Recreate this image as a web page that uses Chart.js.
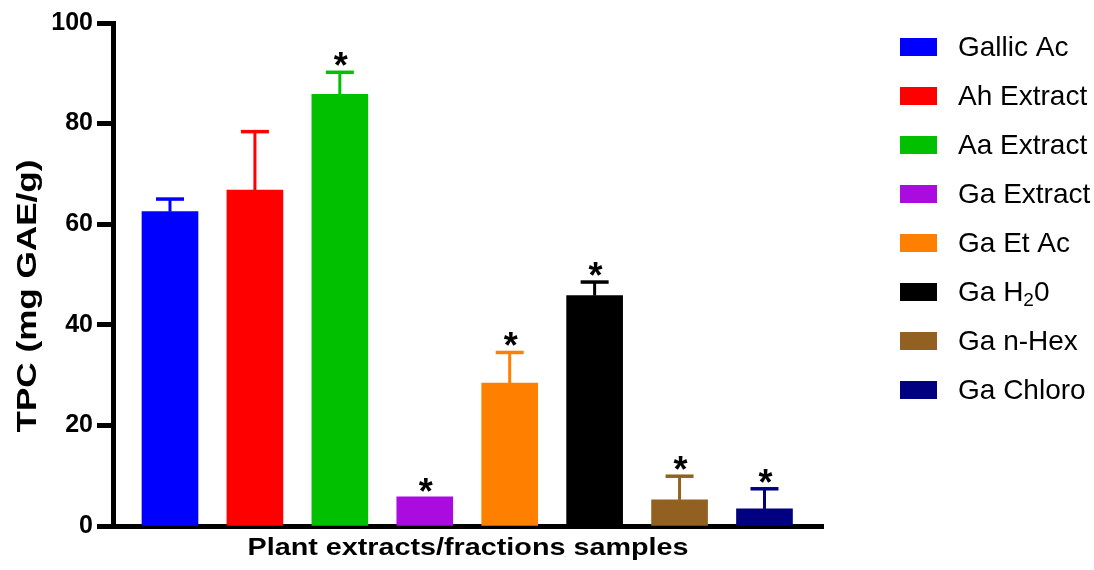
<!DOCTYPE html>
<html>
<head>
<meta charset="utf-8">
<script src="https://cdn.jsdelivr.net/npm/chart.js"></script>
<style>
  html, body { margin: 0; padding: 0; background: #fff; }
</style>
</head>
<body>
<canvas id="tpcChart" width="1094" height="570"></canvas>

<script>
// data (upper end of the SD bar in tpcUpper)
const samples = ['Gallic Ac', 'Ah Extract', 'Aa Extract', 'Ga Extract', 'Ga Et Ac', 'Ga H₂0', 'Ga n-Hex', 'Ga Chloro'];
const tpcMean = [62.5, 66.8, 85.8, 5.8, 28.4, 45.8, 5.2, 3.4];
const tpcUpper = [65.0, 78.4, 90.2, 5.8, 34.5, 48.5, 9.9, 7.4];
const signif = ['', '', '*', '*', '*', '*', '*', '*'];
const barColors = ['#0000ff', '#ff0000', '#00c000', '#aa0ce0', '#ff8000', '#000000', '#926121', '#000080'];
const yTicks = [0, 20, 40, 60, 80, 100];
const xTitle = 'Plant extracts/fractions samples';
const yTitle = 'TPC (mg GAE/g)';

const FONT = '"Liberation Sans", Arial, sans-serif';

// draw text squeezed/stretched to a given length
function stretchedText(ctx, text, cx, cy, font, len, rot) {
  ctx.save();
  ctx.font = font;
  const w = ctx.measureText(text).width;
  ctx.translate(cx, cy);
  if (rot) ctx.rotate(rot);
  ctx.scale(len / w, 1);
  ctx.textAlign = 'center';
  ctx.textBaseline = 'middle';
  ctx.fillStyle = '#000';
  ctx.fillText(text, 0, 0);
  ctx.restore();
}

const errorBars = {
  id: 'errorBars',
  afterDatasetsDraw(chart) {
    const ctx = chart.ctx;
    const x = chart.scales.x, y = chart.scales.y;
    ctx.save();
    samples.forEach(function(s, i) {
      const cx = x.getPixelForValue(i);
      const top = y.getPixelForValue(tpcMean[i]);
      const hi = y.getPixelForValue(tpcUpper[i]);
      let markBottom = top - 5;
      if (hi < top - 1) {
        ctx.strokeStyle = barColors[i];
        ctx.lineWidth = 3;
        ctx.beginPath(); ctx.moveTo(cx, top); ctx.lineTo(cx, hi); ctx.stroke();
        ctx.lineWidth = 3.5;
        ctx.beginPath(); ctx.moveTo(cx - 14, hi); ctx.lineTo(cx + 14, hi); ctx.stroke();
        markBottom = hi - 6;
      }
      if (signif[i]) {
        ctx.font = 'bold 36px ' + FONT;
        ctx.fillStyle = '#000';
        ctx.textAlign = 'center';
        ctx.textBaseline = 'alphabetic';
        const m = ctx.measureText(signif[i]);
        ctx.fillText(signif[i], cx + 1, markBottom - m.actualBoundingBoxDescent);
      }
    });
    ctx.restore();
  }
};

const extras = {
  id: 'extras',
  afterDraw(chart) {
    const ctx = chart.ctx;
    const area = chart.chartArea;
    // axis titles
    stretchedText(ctx, xTitle, (area.left + area.right) / 2, 548, 'bold 24px ' + FONT, 441, 0);
    stretchedText(ctx, yTitle, 28, 296, 'bold 28px ' + FONT, 273, -Math.PI / 2);

    // legend
    ctx.save();
    const lx = area.right + 77;
    samples.forEach(function(s, i) {
      const cy = 47 + i * 49;
      ctx.fillStyle = barColors[i];
      ctx.fillRect(lx, cy - 9, 37, 18);
      ctx.fillStyle = '#000';
      ctx.textBaseline = 'middle';
      ctx.textAlign = 'left';
      const parts = s.split('₂');
      let tx = lx + 58;
      ctx.font = '28px ' + FONT;
      ctx.fillText(parts[0], tx, cy + 1);
      if (parts.length > 1) {
        tx += ctx.measureText(parts[0]).width;
        ctx.font = '19px ' + FONT;
        ctx.fillText('2', tx, cy + 9);
        tx += ctx.measureText('2').width;
        ctx.font = '28px ' + FONT;
        ctx.fillText(parts[1], tx, cy + 1);
      }
    });
    ctx.restore();
  }
};

const tpcChart = new Chart(document.getElementById('tpcChart'), {
  type: 'bar',
  data: {
    datasets: [{
      data: samples.map(function(s, i) { return { x: i, y: tpcMean[i] }; }),
      backgroundColor: barColors,
      borderWidth: 0,
      barThickness: 56
    }]
  },
  options: {
    responsive: false,
    animation: false,
    devicePixelRatio: 1,
    layout: { padding: { top: 23, right: 271, left: 0, bottom: 0 } },
    plugins: {
      legend: { display: false },
      tooltip: { enabled: false }
    },
    scales: {
      x: {
        type: 'linear',
        min: -0.671,
        max: 7.689,
        offset: false,
        grid: { display: false, offset: false },
        ticks: { display: false },
        border: { color: '#000', width: 5 },
        afterFit: function(s) { s.height = 44; }
      },
      y: {
        min: 0,
        max: 100,
        grid: { drawOnChartArea: false, tickLength: 16, tickWidth: 5, tickColor: '#000' },
        border: { color: '#000', width: 5 },
        ticks: { color: '#000', padding: 4, font: { family: FONT, size: 25, weight: 'bold' } },
        afterBuildTicks: function(s) { s.ticks = yTicks.map(function(v) { return { value: v }; }); },
        afterFit: function(s) { s.width = 113; }
      }
    }
  },
  plugins: [errorBars, extras]
});
</script>
</body>
</html>
